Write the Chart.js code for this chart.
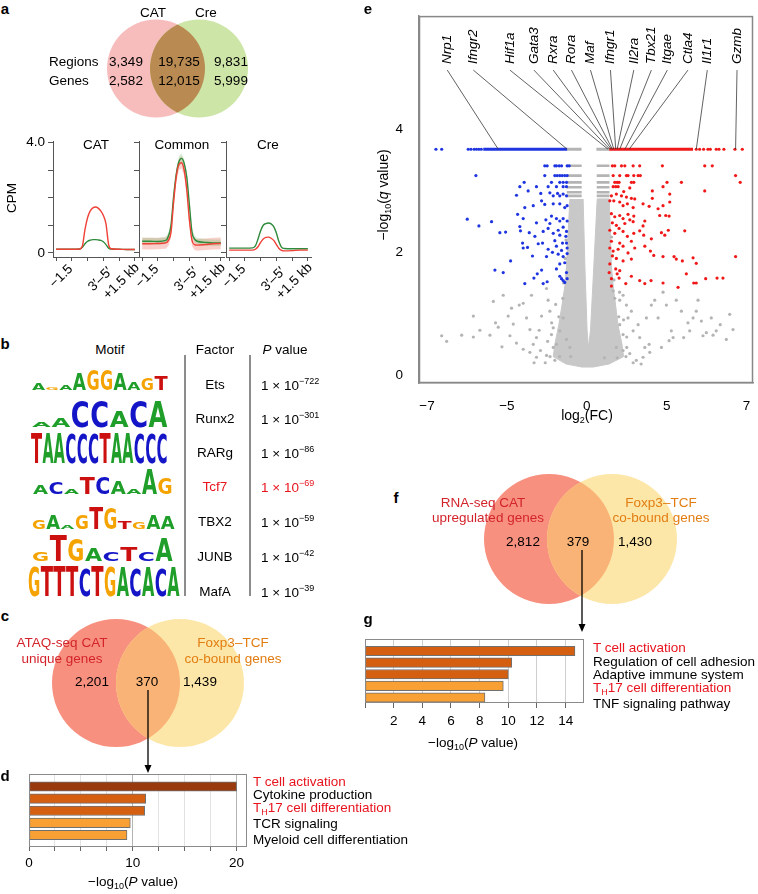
<!DOCTYPE html>
<html>
<head>
<meta charset="utf-8">
<script src="https://cdn.jsdelivr.net/npm/chart.js@4.4.1/dist/chart.umd.min.js"></script>
<style>
  body { margin: 0; background: #fff; }
  #fig { position: relative; width: 758px; height: 894px; overflow: hidden;
         font-family: 'Liberation Sans', Arial, sans-serif; font-size: 13.5px; color: #000; }
  #fig canvas, #fig svg { position: absolute; }
  .t { position: absolute; white-space: nowrap; line-height: 1; }
  sup { font-size: 9px; vertical-align: 6px; line-height: 0; }
  sub { font-size: 9px; vertical-align: -3px; line-height: 0; }
</style>
</head>
<body>
<div id="fig"></div>
<script>
// ---- a: Venn ----
const vennASets = ['CAT', 'Cre'];
const vennARegions = [3349, 19735, 9831];
const vennAGenes = [2582, 12015, 5999];

// ---- a: CPM profiles (kb from summit) ----
const cpmPanels = ['CAT', 'Common', 'Cre'];
const cpmPos = [-1.5, -1.2, -0.9, -0.6, -0.5, -0.4, -0.3, -0.2, -0.1, 0, 0.1, 0.2, 0.3, 0.4, 0.5, 0.6, 0.9, 1.2, 1.5];
const cpmCatRed   = [0.13, 0.13, 0.13, 0.14, 0.25, 0.85, 1.28, 1.52, 1.63, 1.66, 1.62, 1.52, 1.35, 1.05, 0.3, 0.15, 0.13, 0.12, 0.12];
const cpmCatGreen = [0.13, 0.13, 0.13, 0.14, 0.2, 0.33, 0.42, 0.46, 0.48, 0.48, 0.47, 0.45, 0.4, 0.3, 0.17, 0.14, 0.13, 0.12, 0.12];
const cpmComRed   = [0.33, 0.33, 0.34, 0.36, 0.45, 0.75, 1.85, 2.75, 3.2, 3.26, 3.0, 2.3, 1.2, 0.45, 0.3, 0.28, 0.3, 0.33, 0.34];
const cpmComGreen = [0.42, 0.42, 0.41, 0.45, 0.6, 1.0, 2.05, 2.85, 3.3, 3.42, 3.25, 2.75, 1.75, 0.75, 0.5, 0.42, 0.38, 0.36, 0.36];
const cpmComRedHi = [0.55, 0.55, 0.55, 0.56, 0.65, 0.95, 2.05, 2.95, 3.4, 3.5, 3.25, 2.5, 1.4, 0.65, 0.5, 0.5, 0.52, 0.55, 0.56];
const cpmComRedLo = [0.12, 0.12, 0.13, 0.15, 0.25, 0.55, 1.65, 2.55, 3.0, 3.05, 2.8, 2.1, 1.0, 0.25, 0.1, 0.08, 0.1, 0.12, 0.13];
const cpmComGreenHi = [0.55, 0.55, 0.54, 0.58, 0.72, 1.12, 2.2, 3.0, 3.5, 3.6, 3.4, 2.9, 1.9, 0.88, 0.62, 0.54, 0.5, 0.48, 0.48];
const cpmComGreenLo = [0.3, 0.3, 0.29, 0.32, 0.48, 0.88, 1.9, 2.7, 3.1, 3.25, 3.1, 2.6, 1.6, 0.62, 0.38, 0.3, 0.26, 0.25, 0.25];
const cpmCreRed   = [0.1, 0.1, 0.1, 0.1, 0.13, 0.22, 0.38, 0.5, 0.56, 0.57, 0.53, 0.45, 0.3, 0.16, 0.09, 0.07, 0.08, 0.1, 0.1];
const cpmCreGreen = [0.17, 0.17, 0.17, 0.18, 0.25, 0.5, 0.8, 1.0, 1.06, 1.08, 1.05, 0.95, 0.72, 0.4, 0.2, 0.16, 0.15, 0.15, 0.15];
const cpmTickPos = [-1.5, -0.9, -0.3, 0.3, 0.9, 1.5];
const cpmLabelPos = [-1.5, 0, 1.5];
const cpmLabels = ['−1.5', '3′–5′', '+1.5 kb'];

// ---- b: motifs ----
const motifSeqs = ['AGAAGGAAGT', 'AACCACA', 'TAACCCTAACCC', 'ACATCAAAG', 'GAAGTGTGAA', 'GTGACTCA', 'GTTTCTGACACA'];
const motifHeights = [
  [0.2, 0.1, 0.15, 0.55, 0.65, 0.65, 0.55, 0.25, 0.4, 0.45],
  [0.15, 0.3, 0.85, 0.85, 0.5, 0.85, 0.85],
  [0.95, 0.95, 0.95, 0.95, 0.95, 0.95, 0.95, 0.95, 0.95, 0.95, 0.95, 0.95],
  [0.3, 0.4, 0.15, 0.55, 0.55, 0.4, 0.15, 0.8, 0.5],
  [0.3, 0.45, 0.1, 0.45, 0.72, 0.7, 0.25, 0.2, 0.45, 0.4],
  [0.3, 0.85, 0.75, 0.4, 0.3, 0.45, 0.3, 0.75],
  [0.95, 0.97, 0.97, 0.97, 0.9, 0.97, 0.95, 0.9, 0.9, 0.9, 0.9, 0.9]
];
const motifFactors = ['Ets', 'Runx2', 'RARg', 'Tcf7', 'TBX2', 'JUNB', 'MafA'];
const motifLogP = [-722, -301, -86, -69, -59, -42, -39];

// ---- c / d ----
const vennCSets = [['ATAQ-seq CAT', 'unique genes'], ['Foxp3–TCF', 'co-bound genes']];
const vennCCounts = [2201, 370, 1439];
const dTerms = ['T cell activation', 'Cytokine production', 'T<sub>H</sub>17 cell differentiation', 'TCR signaling', 'Myeloid cell differentiation'];
const dLogP = [20.0, 11.24, 11.14, 9.76, 9.44];

// ---- e: volcano ----
const volcanoXTicks = [-10, -5, 0, 5, 10];
const volcanoXTickLabels = ['−7', '−5', '0', '5', '7'];
const volcanoYTicks = [0, 2, 4];
const topQ = 3.68;
const blueTopRun = [-6.48, -1.23];
const blueTopPts = [-9.44, -9.08, -7.42, -7.25, -7.05, -6.9, -6.75, -6.6];
const redTopRun = [1.4, 6.65];
const redTopPts = [6.85, 7.06, 7.31, 7.58, 7.73, 8.1, 8.27, 8.58, 9.27, 9.73];
const grayTopRuns = [[-1.23, -0.33], [0.6, 1.4]];
const grayRowQ = [3.41, 3.25, 3.14, 3.06, 2.98, 2.92];
const grayRowRuns = [[-1.25, -0.32], [0.62, 1.42]];
const grayCore = [[-1.06, 2.87], [-1.17, 2.31], [-1.27, 1.78], [-1.37, 1.46], [-1.55, 1.14], [-1.75, 0.82], [-2.0, 0.5], [-2.1, 0.3],
  [-1.3, 0.18], [-0.3, 0.13], [0.4, 0.13], [1.4, 0.18], [2.3, 0.3], [2.2, 0.5], [1.95, 0.82], [1.8, 1.14], [1.65, 1.46], [1.54, 1.78],
  [1.48, 2.31], [1.4, 2.87], [0.65, 2.87], [0.44, 1.78], [0.23, 0.72], [0.1, 0.45], [0.02, 0.72], [-0.12, 1.78], [-0.23, 2.87]];
const grayGenes = [
  [-9.08, 0.64], [-8.77, 0.55], [-7.83, 0.65], [-7.1, 0.96], [-7.1, 0.62], [-6.69, 0.73], [-6.06, 0.65], [-5.85, 1.2], [-5.71, 0.85],
  [-5.54, 0.78], [-5.31, 0.46], [-5.23, 1.3], [-4.92, 0.96], [-4.81, 0.64], [-4.71, 1.09], [-4.6, 0.83], [-4.23, 1.14], [-3.98, 1.17],
  [-3.77, 0.93], [-3.56, 0.74], [-3.46, 1.3], [-3.35, 0.5], [-3.15, 0.61], [-2.98, 0.73], [-2.83, 0.96], [-2.52, 1.41], [-2.42, 1.22],
  [-2.31, 1.04], [-2.21, 0.66], [-2.1, 0.77], [-1.9, 0.5], [-1.69, 0.72], [-1.48, 0.93], [-1.27, 0.58], [-1.06, 0.45], [-2.9, 0.4],
  [-3.56, 0.37], [-3.15, 0.29], [-2.52, 0.32], [-2.0, 0.24], [-4.4, 0.52], [-3.98, 0.42],
  [1.65, 1.37], [2.06, 1.22], [2.27, 1.3], [2.48, 1.14], [2.58, 0.93], [2.79, 1.04], [2.9, 0.72], [3.21, 0.82], [3.31, 0.61],
  [3.63, 0.45], [3.73, 0.93], [3.9, 0.5], [4.04, 1.14], [4.25, 1.22], [4.46, 0.93], [4.67, 0.45], [4.77, 1.35], [4.98, 1.14],
  [5.15, 0.56], [5.29, 0.72], [5.6, 1.22], [5.92, 1.04], [6.06, 0.61], [6.33, 0.85], [6.65, 0.93], [6.85, 1.04], [6.96, 1.22],
  [7.17, 0.88], [7.48, 0.69], [7.79, 0.93], [7.9, 0.65], [8.1, 0.72], [8.35, 0.82], [8.73, 0.58], [8.94, 0.99], [9.15, 0.74],
  [5.4, 0.61], [3.52, 0.29], [2.69, 0.35], [2.27, 0.4], [1.85, 0.45], [2.27, 0.66], [2.06, 0.82], [3.1, 0.24], [3.94, 0.37],
  [6.44, 0.72], [7.27, 0.64],
  [-1.5, 1.25], [-1.75, 0.95], [-1.45, 1.5], [-1.35, 1.9], [-1.3, 2.2], [-2.1, 0.45], [-2.6, 0.2], [-1.7, 0.3], [1.75, 1.25],
  [2.0, 0.95], [1.7, 1.55], [1.6, 1.95], [1.55, 2.25], [2.5, 0.45], [2.9, 0.2], [1.9, 0.28], [-1.0, 0.3], [1.1, 0.28],
  [-2.3, 0.3], [-2.45, 0.55], [-2.2, 0.85], [2.45, 0.3], [2.5, 0.62], [2.3, 0.9], [-1.95, 1.15], [2.05, 1.35], [-3.3, 0.2], [3.4, 0.18]
];
const blueGenes = [
  [-2.63, 3.41], [-2.48, 3.41], [-2.0, 3.41], [-1.9, 3.41], [-1.73, 3.41], [-1.58, 3.41], [-1.23, 3.41], [-1.1, 3.41],
  [-6.94, 3.25], [-2.63, 3.25], [-2.0, 3.25], [-1.85, 3.25], [-1.69, 3.25], [-1.54, 3.25], [-1.38, 3.25], [-1.23, 3.25],
  [-3.92, 3.14], [-2.21, 3.14], [-1.69, 3.14], [-1.48, 3.14], [-1.27, 3.14],
  [-4.19, 3.07], [-3.15, 3.07], [-2.42, 3.07], [-1.9, 3.07], [-1.48, 3.07], [-1.27, 3.07],
  [-4.4, 2.93], [-3.67, 3.0], [-2.88, 2.96], [-2.31, 2.97], [-2.1, 2.92], [-1.83, 2.96], [-1.69, 2.92], [-1.48, 2.95], [-1.27, 2.92],
  [-2.83, 2.84], [-3.35, 2.76], [-3.88, 2.73], [-2.63, 2.78], [-2.1, 2.79], [-1.69, 2.79], [-1.38, 2.73], [-1.23, 2.76],
  [-7.48, 2.54], [-6.75, 2.43], [-5.96, 2.5], [-4.33, 2.62], [-3.98, 2.55], [-3.15, 2.48], [-2.56, 2.53], [-2.21, 2.59], [-1.9, 2.55],
  [-1.69, 2.51], [-1.48, 2.55], [-1.23, 2.51], [-2.31, 2.47],
  [-5.44, 2.32], [-5.08, 2.33], [-4.19, 2.42], [-4.15, 2.35], [-3.6, 2.32], [-3.25, 2.26], [-2.73, 2.34], [-2.42, 2.39], [-2.1, 2.31],
  [-1.79, 2.36], [-1.48, 2.41], [-1.27, 2.34], [-1.69, 2.28], [-1.31, 2.26],
  [-4.02, 2.15], [-3.71, 2.08], [-3.98, 2.07], [-3.04, 2.14], [-2.77, 2.15], [-2.42, 2.05], [-2.0, 2.19], [-1.9, 2.1], [-1.58, 2.03],
  [-1.27, 2.15], [-1.23, 2.07], [-1.52, 2.15],
  [-4.77, 1.86], [-3.4, 1.94], [-2.52, 1.93], [-2.15, 2.0], [-1.79, 1.97], [-1.48, 1.93], [-1.23, 1.98], [-1.69, 1.81], [-1.38, 1.83], [-1.9, 1.73],
  [-5.75, 1.71], [-5.23, 1.67], [-3.88, 1.49], [-3.31, 1.58], [-3.1, 1.65], [-2.83, 1.71], [-2.73, 1.49], [-2.48, 1.52], [-1.69, 1.61],
  [-1.58, 1.57], [-1.48, 1.54], [-1.38, 1.51], [-1.23, 1.57], [-1.27, 1.67]
];
const redGenes = [
  [1.6, 3.41], [1.75, 3.41], [2.17, 3.41], [2.38, 3.41], [2.9, 3.41], [3.31, 3.41], [4.73, 3.41], [7.38, 3.41], [7.85, 3.41],
  [1.65, 3.25], [2.06, 3.25], [2.48, 3.25], [2.58, 3.25], [2.94, 3.25], [3.21, 3.25], [3.35, 3.25], [9.31, 3.25],
  [1.75, 3.14], [1.9, 3.14], [2.02, 3.14], [2.79, 3.14], [2.94, 3.14], [5.02, 3.14], [5.92, 3.14], [9.6, 3.14],
  [1.65, 3.07], [1.81, 3.07], [1.96, 3.07], [2.69, 3.05], [4.1, 3.0], [4.77, 3.07], [5.19, 2.95], [7.38, 3.0],
  [1.54, 2.92], [1.85, 2.95], [2.17, 2.92], [2.31, 2.99], [2.48, 2.9], [2.79, 2.88], [4.1, 2.88], [3.0, 2.87],
  [1.44, 2.84], [1.69, 2.84], [2.06, 2.82], [2.27, 2.76], [2.54, 2.79], [2.9, 2.73], [3.52, 2.79], [3.9, 2.75], [4.46, 2.71], [4.77, 2.76], [5.19, 2.82],
  [1.54, 2.63], [1.75, 2.58], [2.06, 2.6], [2.27, 2.55], [2.58, 2.62], [2.69, 2.53], [2.94, 2.59], [3.63, 2.51], [4.56, 2.6], [4.94, 2.6],
  [5.15, 2.59], [1.6, 2.48], [1.85, 2.44], [2.38, 2.47], [2.9, 2.5], [3.52, 2.43],
  [1.44, 2.36], [1.75, 2.31], [2.02, 2.39], [2.27, 2.34], [2.54, 2.26], [2.94, 2.31], [3.31, 2.35], [3.56, 2.28], [4.04, 2.22],
  [4.67, 2.32], [4.88, 2.28], [5.1, 2.36], [6.13, 2.35], [1.54, 2.18], [2.06, 2.15], [2.79, 2.18],
  [1.44, 2.07], [1.65, 2.02], [1.96, 2.05], [2.27, 2.1], [2.58, 1.99], [3.0, 2.07], [3.63, 2.1], [3.98, 2.02], [4.19, 1.95], [4.77, 1.93],
  [5.46, 1.93], [5.6, 1.89], [6.65, 1.91], [9.31, 1.93], [1.6, 1.94], [1.85, 1.9], [2.27, 1.86], [2.79, 1.89], [5.98, 1.86], [6.85, 1.82],
  [1.44, 1.81], [1.81, 1.73], [2.06, 1.7], [1.9, 1.65], [1.54, 1.57], [2.02, 1.58], [2.79, 1.61], [3.31, 1.54], [3.63, 1.49], [4.02, 1.54],
  [4.77, 1.5], [5.71, 1.43], [6.23, 1.65], [6.69, 1.5], [6.85, 1.5], [7.44, 1.57], [8.15, 1.58], [8.52, 1.58], [1.54, 1.45], [2.44, 1.49], [1.4, 1.67]
];
const genes = ['Nrp1', 'Ifngr2', 'Hif1a', 'Gata3', 'Rxra', 'Rora', 'Maf', 'Ifngr1', 'Il2ra', 'Tbx21', 'Itgae', 'Ctla4', 'Il1r1', 'Gzmb'];
const geneFC = [-5.54, -1.23, 1.33, 1.44, 1.54, 1.6, 1.69, 1.81, 1.9, 2.06, 2.38, 2.65, 6.85, 9.31];

// ---- f / g ----
const vennFSets = [['RNA-seq CAT', 'upregulated genes'], ['Foxp3–TCF', 'co-bound genes']];
const vennFCounts = [2812, 379, 1430];
const gTerms = ['T cell activation', 'Regulation of cell adhesion', 'Adaptive immune system', 'T<sub>H</sub>17 cell differentiation', 'TNF signaling pathway'];
const gLogP = [14.65, 10.24, 10.0, 9.65, 8.37];

// ---------------- helpers ----------------
const fig = document.getElementById('fig');
const RED_TXT = '#e8141e';

Chart.defaults.font.family = "'Liberation Sans', Arial, sans-serif";
Chart.defaults.font.size = 13.5;
Chart.defaults.color = '#000';
Chart.defaults.animation = false;
Chart.defaults.responsive = false;
Chart.defaults.events = [];
Chart.defaults.layout.autoPadding = false;
Chart.defaults.plugins.legend.display = false;
Chart.defaults.plugins.tooltip.enabled = false;

function addCanvas(left, top, w, h) {
  const c = document.createElement('canvas');
  c.width = w; c.height = h;
  c.style.left = left + 'px'; c.style.top = top + 'px';
  c.style.width = w + 'px'; c.style.height = h + 'px';
  fig.appendChild(c);
  return c;
}

function txt(x, y, html, o = {}) {
  const d = document.createElement('div');
  d.className = 't';
  d.innerHTML = html;
  d.style.left = x + 'px';
  d.style.top = y + 'px';
  const ax = o.align === 'left' ? '0' : o.align === 'right' ? '-100%' : '-50%';
  d.style.transform = `translate(${ax},-50%)` + (o.rot ? ` rotate(${o.rot}deg)` : '');
  if (o.color) d.style.color = o.color;
  if (o.size) d.style.fontSize = o.size + 'px';
  if (o.bold) d.style.fontWeight = 'bold';
  fig.appendChild(d);
  return d;
}

const fmt = n => n.toLocaleString('en-US');

const framePlugin = {
  id: 'frame',
  afterDraw(chart, args, opts) {
    const { ctx, chartArea: a } = chart;
    ctx.save();
    ctx.strokeStyle = opts.color || '#888';
    ctx.lineWidth = opts.width || 1;
    ctx.strokeRect(a.left + 0.5, a.top + 0.5, a.right - a.left - 1, a.bottom - a.top - 1);
    ctx.restore();
  }
};

// overlap of a two-set Venn
const vennPlugin = {
  id: 'venn',
  afterDatasetsDraw(chart, args, opts) {
    const pts = chart.getDatasetMeta(0).data;
    const r = chart.data.datasets[0].pointRadius;
    const ctx = chart.ctx;
    ctx.save();
    ctx.beginPath(); ctx.arc(pts[0].x, pts[0].y, r, 0, Math.PI * 2); ctx.clip();
    ctx.beginPath(); ctx.arc(pts[1].x, pts[1].y, r, 0, Math.PI * 2);
    ctx.fillStyle = opts.overlap; ctx.fill();
    ctx.restore();
  }
};

function vennChart(canvas, sets, colors, overlap, radius, xRange) {
  return new Chart(canvas, {
    type: 'scatter',
    data: { datasets: [{ data: sets.map((s, i) => ({ x: i, y: 0 })), backgroundColor: colors, borderWidth: 0, pointRadius: radius, clip: false }] },
    options: {
      layout: { autoPadding: false, padding: 0 },
      scales: { x: { display: false, min: xRange[0], max: xRange[1] }, y: { display: false, min: -1, max: 1 } },
      plugins: { venn: { overlap } }
    },
    plugins: [vennPlugin]
  });
}

function arrow(x, y1, y2) {
  const ns = 'http://www.w3.org/2000/svg';
  const s = document.createElementNS(ns, 'svg');
  s.setAttribute('width', 758); s.setAttribute('height', 894);
  s.style.left = '0px'; s.style.top = '0px';
  s.innerHTML = `<line x1="${x}" y1="${y1}" x2="${x}" y2="${y2 - 5}" stroke="#000" stroke-width="1.3"/>` +
    `<polygon points="${x - 3.5},${y2 - 8} ${x + 3.5},${y2 - 8} ${x},${y2}" fill="#000"/>`;
  fig.appendChild(s);
}

// ---------------- a: Venn ----------------
vennChart(addCanvas(100, 15, 160, 107), vennASets, ['#f7bcbc', '#cde6a8'], '#b98b52', 49, [-56 / 43, 104 / 43]);

// ---------------- a: CPM ----------------
function cpmChart(canvas, lines, bands, axisW, showLabels) {
  const datasets = [];
  bands.forEach(b => {
    datasets.push({ type: 'line', data: cpmPos.map((x, i) => ({ x, y: b.hi[i] })), borderWidth: 0, pointRadius: 0, fill: false, order: 3 });
    datasets.push({ type: 'line', data: cpmPos.map((x, i) => ({ x, y: b.lo[i] })), borderWidth: 0, pointRadius: 0, fill: '-1', backgroundColor: b.color, order: 3 });
  });
  lines.forEach((l, k) => datasets.push({
    type: 'line', data: cpmPos.map((x, i) => ({ x, y: l.values[i] })), borderColor: l.color, borderWidth: 1.4,
    pointRadius: 0, fill: false, cubicInterpolationMode: 'monotone', order: k
  }));
  return new Chart(canvas, {
    type: 'line',
    data: { datasets },
    options: {
      layout: { autoPadding: false, padding: { top: 11, right: 2 } },
      scales: {
        x: {
          type: 'linear', min: -1.62, max: 1.62,
          afterBuildTicks: s => { s.ticks = cpmTickPos.map(v => ({ value: v })); },
          ticks: { display: false },
          grid: { drawOnChartArea: false, tickLength: 4, color: '#555' },
          border: { color: '#555' },
          afterFit: s => { s.height = 43; }
        },
        y: {
          type: 'linear', min: -0.15, max: 4.05,
          afterBuildTicks: s => { s.ticks = [0, 1, 2, 3, 4].map(v => ({ value: v })); },
          ticks: { display: showLabels, padding: 3, callback: v => v === 4 ? '4.0' : v === 0 ? '0' : '' },
          grid: { drawOnChartArea: false, tickLength: 5, color: '#555' },
          border: { color: '#555' },
          afterFit: s => { s.width = axisW; }
        }
      }
    }
  });
}

const RED_LINE = '#ef4136', GREEN_LINE = '#2e8b3c';
const cpm1 = cpmChart(addCanvas(0, 130, 140, 170),
  [{ values: cpmCatRed, color: RED_LINE }, { values: cpmCatGreen, color: GREEN_LINE }], [], 53, true);
const cpm2 = cpmChart(addCanvas(130, 130, 96, 170),
  [{ values: cpmComRed, color: RED_LINE }, { values: cpmComGreen, color: GREEN_LINE }],
  [{ hi: cpmComGreenHi, lo: cpmComGreenLo, color: 'rgba(140,190,120,0.35)' },
   { hi: cpmComRedHi, lo: cpmComRedLo, color: 'rgba(240,120,110,0.35)' }], 9, false);
const cpm3 = cpmChart(addCanvas(217, 130, 96, 170),
  [{ values: cpmCreRed, color: RED_LINE }, { values: cpmCreGreen, color: GREEN_LINE }], [], 9, false);

// ---------------- b: motif logos ----------------
const baseColors = { A: '#1f9e2a', C: '#1515c8', G: '#f5a300', T: '#cc1010' };
const logoBox = [[32, 168, 390], [32, 168, 427], [31, 168, 463], [33, 173, 494], [32, 175, 529], [32, 173, 561], [28, 180, 596]];
const mc = addCanvas(20, 360, 170, 240);
const mctx = mc.getContext('2d');
mctx.font = "bold 40px 'DejaVu Sans'";
motifSeqs.forEach((seq, r) => {
  const [x0, x1, base] = logoBox[r];
  const w = (x1 - x0) / seq.length;
  [...seq].forEach((ch, i) => {
    const m = mctx.measureText(ch);
    const h = motifHeights[r][i] * 32;
    mctx.save();
    mctx.translate(x0 - 20 + i * w, base - 360);
    mctx.scale(w * 0.97 / m.width, h / m.actualBoundingBoxAscent);
    mctx.fillStyle = baseColors[ch];
    mctx.fillText(ch, 0, 0);
    mctx.restore();
  });
});

// ---------------- c: Venn ----------------
vennChart(addCanvas(40, 615, 220, 136), vennCSets, ['#f8907f', '#fde7a8'], '#f9b377', 64, [-76 / 64, 144 / 64]);

// ---------------- d / g: enrichment bars ----------------
function termChart(canvas, values, colors, o) {
  return new Chart(canvas, {
    type: 'bar',
    data: { datasets: [{ data: values.map((v, i) => ({ x: v, y: i })), backgroundColor: colors, borderColor: '#707070', borderWidth: 1, barThickness: 9.5, borderSkipped: false }] },
    options: {
      indexAxis: 'y',
      layout: { padding: o.pad },
      scales: {
        y: { type: 'linear', reverse: true, offset: false, min: o.yMin, max: o.yMax, display: false, grid: { offset: false } },
        x: {
          type: 'linear', min: 0, max: o.xMax,
          afterBuildTicks: s => { s.ticks = o.ticks.map(v => ({ value: v })); },
          ticks: { padding: o.tickPad, callback: o.label },
          grid: { color: o.grid, tickColor: '#666', tickLength: o.tickLen },
          border: { display: false },
          afterFit: s => { s.height = o.xH; }
        }
      },
      plugins: { frame: { color: '#8a8a8a' } }
    },
    plugins: [framePlugin]
  });
}

termChart(addCanvas(0, 760, 260, 134), dLogP, ['#983a0e', '#d45f10', '#d45f10', '#f8a033', '#f8a033'], {
  pad: { left: 29, top: 14, right: 13 }, yMin: -1.03, yMax: 4.99, xMax: 21,
  ticks: [0, 2.5, 5, 7.5, 10, 12.5, 15, 17.5, 20], label: v => v % 10 === 0 ? String(v) : '',
  grid: c => c.tick && c.tick.value % 10 === 0 ? '#b4b4b4' : '#e2e2e2', tickLen: 4, tickPad: 4, xH: 47
});

termChart(addCanvas(350, 625, 240, 130), gLogP, ['#d45f10', '#d45f10', '#d45f10', '#f8a033', '#f8a033'], {
  pad: { left: 15, top: 14, right: 6 }, yMin: -1.03, yMax: 4.47, xMax: 15.28,
  ticks: [0, 2, 4, 6, 8, 10, 12, 14], label: v => v === 0 ? '' : String(v),
  grid: '#cfcfcf', tickLen: 5, tickPad: 5, xH: 52
});

// ---------------- e: volcano ----------------
const geneLabelPos = [-8.73, -7.1, -4.81, -3.31, -2.1, -0.96, 0.23, 1.48, 2.94, 4.04, 5.04, 6.33, 7.54, 9.4];
const geneLabelPlugin = {
  id: 'geneLabels',
  afterDatasetsDraw(chart) {
    const { ctx, scales: { x, y } } = chart;
    ctx.save();
    ctx.strokeStyle = '#3a3a3a';
    ctx.lineWidth = 0.8;
    genes.forEach((g, i) => {
      const lx = x.getPixelForValue(geneLabelPos[i]);
      ctx.beginPath();
      ctx.moveTo(lx, y.getPixelForValue(4.97));
      ctx.lineTo(x.getPixelForValue(geneFC[i]), y.getPixelForValue(topQ));
      ctx.stroke();
      ctx.save();
      ctx.translate(lx, y.getPixelForValue(5.07));
      ctx.rotate(-Math.PI / 2);
      ctx.font = "italic 13.5px 'Liberation Sans', Arial";
      ctx.fillStyle = '#000';
      ctx.textAlign = 'left';
      ctx.textBaseline = 'middle';
      ctx.fillText(g, 0, 0);
      ctx.restore();
    });
    ctx.restore();
  }
};

const GRAY = '#b4b4b4', BLUE = '#1f35e0', RED = '#f01818';
const pts = arr => arr.map(([x, y]) => ({ x, y }));
const runData = (runs, q) => runs.flatMap(([a, b]) => [{ x: a, y: q }, { x: b, y: q }, { x: b, y: null }]);

new Chart(addCanvas(360, 0, 398, 425), {
  type: 'scatter',
  data: {
    datasets: [
      { data: pts(grayCore), showLine: true, fill: 'shape', backgroundColor: '#c8c8c8', borderColor: '#c8c8c8', borderWidth: 1, pointRadius: 0, order: 6 },
      { data: pts(grayGenes), backgroundColor: GRAY, pointRadius: 1.6, borderWidth: 0, order: 5 },
      { data: grayRowQ.flatMap(q => runData(grayRowRuns, q)), showLine: true, spanGaps: false, borderColor: GRAY, borderWidth: 2.6, pointRadius: 0, order: 4 },
      { data: runData(grayTopRuns, topQ), showLine: true, spanGaps: false, borderColor: GRAY, borderWidth: 3, pointRadius: 0, order: 4 },
      { data: pts(blueGenes), backgroundColor: BLUE, pointRadius: 1.6, borderWidth: 0, order: 2 },
      { data: pts(redGenes), backgroundColor: RED, pointRadius: 1.6, borderWidth: 0, order: 2 },
      { data: blueTopPts.map(x => ({ x, y: topQ })), backgroundColor: BLUE, pointRadius: 1.6, borderWidth: 0, order: 1 },
      { data: redTopPts.map(x => ({ x, y: topQ })), backgroundColor: RED, pointRadius: 1.6, borderWidth: 0, order: 1 },
      { data: runData([blueTopRun], topQ), showLine: true, borderColor: BLUE, borderWidth: 3, pointRadius: 0, order: 1 },
      { data: runData([redTopRun], topQ), showLine: true, borderColor: RED, borderWidth: 3, pointRadius: 0, order: 1 }
    ]
  },
  options: {
    layout: { autoPadding: false, padding: { top: 8, right: 5 } },
    scales: {
      x: {
        type: 'linear', min: -10.5, max: 10.4,
        afterBuildTicks: s => { s.ticks = volcanoXTicks.map(v => ({ value: v })); },
        ticks: { padding: 7, callback: (v, i) => volcanoXTickLabels[i] },
        grid: { display: false },
        border: { color: '#888', width: 1.5 },
        afterFit: s => { s.height = 42; }
      },
      y: {
        type: 'linear', min: -0.13, max: 5.85,
        afterBuildTicks: s => { s.ticks = volcanoYTicks.map(v => ({ value: v })); },
        ticks: { padding: 8 },
        grid: { display: false },
        border: { color: '#888', width: 1.5 },
        afterFit: s => { s.width = 59; }
      }
    },
    plugins: { frame: { color: '#888', width: 1.5 } }
  },
  plugins: [framePlugin, geneLabelPlugin]
});

// ---------------- f: Venn ----------------
vennChart(addCanvas(470, 470, 220, 138), vennFSets, ['#f8907f', '#fde7a8'], '#f9b377', 65, [-79 / 63, 141 / 63]);

// ---------------- text ----------------
// panel letters
[['a', 5, 8], ['b', 5, 343], ['c', 5, 615], ['d', 5, 775], ['e', 368, 8], ['f', 396, 497], ['g', 368, 618]]
  .forEach(([l, x, y]) => txt(x, y, l, { bold: true, size: 15 }));

// a
txt(153, 13, vennASets[0]); txt(206, 13, vennASets[1]);
txt(49, 62, 'Regions', { align: 'left' }); txt(49, 81, 'Genes', { align: 'left' });
[126, 179, 231].forEach((x, i) => { txt(x, 62, fmt(vennARegions[i])); txt(x, 81, fmt(vennAGenes[i])); });
txt(12, 198, 'CPM', { rot: -90 });
[96, 182, 268].forEach((x, i) => txt(x, 145, cpmPanels[i]));
[cpm1, cpm2, cpm3].forEach(ch => {
  const left = parseFloat(ch.canvas.style.left);
  const offs = [5, 4, -14], ys = [276, 279, 281];
  cpmLabelPos.forEach((v, i) => txt(left + ch.scales.x.getPixelForValue(v) + offs[i], ys[i], cpmLabels[i], { rot: -45 }));
});

// b
txt(110, 350, 'Motif'); txt(215, 350, 'Factor'); txt(285, 350, '<i>P</i> value');
const vl = document.createElement('div');
vl.innerHTML = '<div style="position:absolute;left:184px;top:355px;width:2px;height:241px;background:#8c8c8c"></div>' +
  '<div style="position:absolute;left:249px;top:355px;width:2px;height:241px;background:#8c8c8c"></div>';
fig.appendChild(vl);
const rowY = [385, 419, 453, 487, 522, 557, 592];
motifFactors.forEach((f, i) => {
  const color = f === 'Tcf7' ? RED_TXT : '#000';
  txt(215, rowY[i], f, { color });
  txt(261, rowY[i] + 1, `1 × 10<sup>−${Math.abs(motifLogP[i])}</sup>`, { align: 'left', color });
});

// c
const C_RED = '#d3242b', C_ORG = '#e27d12';
txt(62, 643, vennCSets[0][0], { color: C_RED }); txt(62, 659, vennCSets[0][1], { color: C_RED });
txt(233, 643, vennCSets[1][0], { color: C_ORG }); txt(233, 659, vennCSets[1][1], { color: C_ORG });
[92, 147, 200].forEach((x, i) => txt(x, 682, fmt(vennCCounts[i])));
arrow(148, 690, 773);

// d
const dLabelY = [782, 795, 808, 824, 840];
dTerms.forEach((t, i) => txt(253, dLabelY[i], t, { align: 'left', color: (i === 0 || i === 2) ? RED_TXT : '#000' }));
txt(133, 882, '−log<sub>10</sub>(<i>P</i> value)');

// e
txt(383, 195, '−log<sub>10</sub>(<i>q</i> value)', { rot: -90, size: 14 });
txt(587, 415, 'log<sub>2</sub>(FC)', { size: 14 });

// f
txt(483, 503, vennFSets[0][0], { color: C_RED }); txt(488, 518, vennFSets[0][1], { color: C_RED });
txt(661, 503, vennFSets[1][0], { color: C_ORG }); txt(661, 518, vennFSets[1][1], { color: C_ORG });
[523, 578, 635].forEach((x, i) => txt(x, 542, fmt(vennFCounts[i])));
arrow(582, 550, 632);

// g
const gLabelY = [648, 662, 675, 688, 704];
gTerms.forEach((t, i) => txt(593, gLabelY[i], t, { align: 'left', color: (i === 0 || i === 3) ? RED_TXT : '#000' }));
txt(473, 743, '−log<sub>10</sub>(<i>P</i> value)');
</script>
</body>
</html>
